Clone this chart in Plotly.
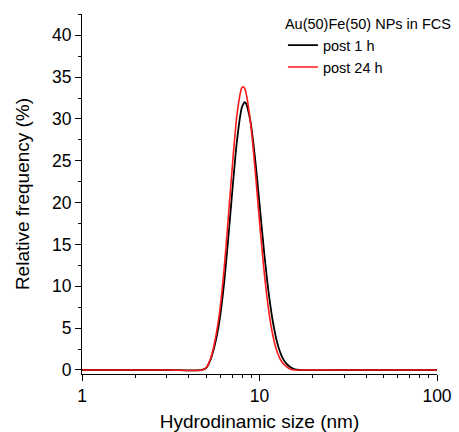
import plotly.graph_objects as go

# Hydrodynamic size bins (nm) and relative frequency (%)
size_nm = [1.0, 3.0, 4.73, 5.01, 5.31, 5.62, 5.96, 6.31, 6.68, 7.08, 7.50, 7.94,
           8.07, 8.24, 8.41, 8.91, 9.44, 10.0, 10.59, 11.22, 11.89, 12.59, 13.34,
           14.13, 14.96, 15.85, 16.79, 30.0, 100.0]
post_1h = [0, 0, 0, 0.25, 1.3, 3.13, 5.98, 10.29, 15.92, 22.16, 27.77, 31.32,
           31.7, 32.0, 31.82, 29.59, 25.29, 19.86, 14.33, 9.50, 5.79, 3.24, 1.67,
           0.79, 0.34, 0.08, 0, 0, 0]
post_24h = [0, 0, 0, 0.3, 1.4, 3.56, 6.90, 11.90, 18.32, 25.16, 30.83, 33.70,
            33.85, 33.70, 33.04, 29.50, 24.00, 17.79, 12.02, 7.40, 4.15, 2.12, 0.99,
            0.42, 0.10, 0, 0, 0, 0]

legend_title = "Au(50)Fe(50) NPs in FCS"
series_names = ["post 1 h", "post 24 h"]
x_title = "Hydrodinamic size (nm)"
y_title = "Relative frequency (%)"

FONT = "Liberation Sans, Arial, sans-serif"

fig = go.Figure()
fig.add_trace(go.Scatter(x=size_nm, y=post_1h, mode="lines", name=series_names[0],
                         line=dict(color="#000000", width=1.8, shape="spline", smoothing=0.8)))
fig.add_trace(go.Scatter(x=size_nm, y=post_24h, mode="lines", name=series_names[1],
                         line=dict(color="#ff1a1a", width=1.6, shape="spline", smoothing=0.8)))

fig.update_layout(
    width=459, height=432,
    margin=dict(l=82, r=22, t=14, b=58, autoexpand=False),
    paper_bgcolor="white", plot_bgcolor="white",
    font=dict(family=FONT, color="#000000"),
    showlegend=True,
    legend=dict(
        title=dict(text=legend_title, font=dict(size=14.5, family=FONT)),
        font=dict(size=14.5, family=FONT),
        x=0.566, y=1.01, xanchor="left", yanchor="top",
        bgcolor="rgba(0,0,0,0)", borderwidth=0,
        tracegroupgap=0,
    ),
)

fig.update_xaxes(
    type="log", range=[0, 2], dtick=1,
    showline=True, linecolor="#000000", linewidth=1, mirror=False,
    showgrid=False, zeroline=False,
    ticks="outside", ticklen=6, tickwidth=1, tickcolor="#000000",
    tickfont=dict(size=17.5, family=FONT),
    minor=dict(ticks="outside", ticklen=3, tickwidth=1, tickcolor="#000000",
               dtick="D1", showgrid=False),
    title=dict(text=x_title, font=dict(size=19, family=FONT), standoff=10),
)
fig.update_yaxes(
    range=[-0.48, 42.54], tick0=0, dtick=5,
    showline=True, linecolor="#000000", linewidth=1, mirror=False,
    showgrid=False, zeroline=False,
    ticks="outside", ticklen=6, tickwidth=1, tickcolor="#000000",
    tickfont=dict(size=17.5, family=FONT),
    minor=dict(ticks="outside", ticklen=3, tickwidth=1, tickcolor="#000000",
               dtick=2.5, tick0=0, showgrid=False),
    title=dict(text=y_title, font=dict(size=19, family=FONT), standoff=17),
)

fig.write_html("out.html")
